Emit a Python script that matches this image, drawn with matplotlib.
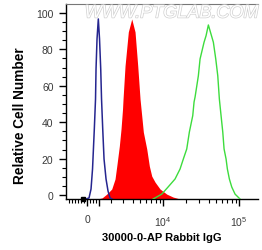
"""Flow cytometry overlay: isotype control vs 30000-0-AP Rabbit IgG."""

import matplotlib
matplotlib.use("Agg")
import matplotlib.pyplot as plt
import matplotlib.patheffects as pe
from matplotlib.ticker import FixedLocator, MultipleLocator

plt.rcParams["font.family"] = ["Liberation Sans", "DejaVu Sans"]
plt.rcParams["mathtext.fontset"] = "custom"
plt.rcParams["mathtext.rm"] = "Liberation Sans"
plt.rcParams["mathtext.it"] = "Liberation Sans:italic"

# blank / unstained control (navy outline)
blank_x = [-83, 166, 333, 458, 607, 707, 749, 832, 940, 1040, 1140, 1207,
           1306, 1415, 1581, 1747, 1914, 2080]
blank_y = [-2.2, -1.6, 3.3, 14.3, 36.3, 52.7, 69.2, 85.7, 96.7, 85.7, 69.2,
           52.7, 36.3, 19.8, 8.8, 2.2, -1.6, -2.2]

# isotype control (red, filled)
iso_x = [832, 1248, 1639, 2055, 2330, 2496, 2688, 2829, 2954, 2996, 3162,
         3494, 3874, 4281, 4646, 4983, 5246, 5505, 6103, 6603, 7101, 7849,
         9129, 11190, 13540, 16740]
iso_y = [-2.2, -1.6, 0.5, 3.3, 8.8, 17.0, 26.9, 36.3, 47.3, 52.7, 70.9,
         89.6, 96.7, 89.6, 70.9, 52.7, 43.4, 34.6, 25.3, 15.9, 10.4, 7.1,
         3.3, 0.5, -1.1, -2.2]

# antibody stained sample (green outline)
ab_x = [7386, 9612, 11640, 14380, 16740, 18490, 20500, 22190, 24590, 25580,
        26370, 29140, 30680, 34620, 36800, 39460, 45910, 49360, 52460, 55050,
        57960, 61030, 63490, 67450, 70170, 74560, 80130, 88600, 103100]
ab_y = [-2.2, 0.5, 4.4, 8.8, 14.3, 19.8, 25.3, 34.6, 43.6, 51.1, 53.8, 65.5,
        74.7, 83.9, 87.5, 93.4, 83.9, 74.7, 65.5, 52.7, 43.6, 34.6, 25.3,
        19.8, 14.3, 8.8, 4.4, 0.5, -2.2]

x_major = [0, 1000, 10000, 100000]
x_major_labels = ["0", "", "$10^4$", "$10^5$"]
x_minor = [-1750, -1500, -1250, -1000, -750, -500, -250, 250, 500, 750,
           2000, 3000, 4000, 5000, 6000, 7000, 8000, 9000,
           20000, 30000, 40000, 50000, 60000, 70000, 80000, 90000]

fig = plt.figure(figsize=(2.62, 2.51), dpi=100)
ax = fig.add_axes([0.252, 0.203, 0.733, 0.777])

ax.set_xscale("symlog", linthresh=3162, linscale=0.45)
ax.set_xlim(-1747, 177800)
ax.set_ylim(-2.2, 104.9)

ax.fill_between(iso_x, iso_y, -2.2, color="#ff0000", lw=0, zorder=2)
ax.plot(blank_x, blank_y, color="#25258f", lw=1.1, zorder=3)
ax.plot(ab_x, ab_y, color="#3ddc3d", lw=1.0, zorder=3)

# small black marker on the axis near zero
ax.plot([-333], [-2.2], marker="s", ms=3.5, color="black",
        clip_on=False, zorder=5)

ax.xaxis.set_major_locator(FixedLocator(x_major))
ax.set_xticklabels(x_major_labels)
ax.xaxis.set_minor_locator(FixedLocator(x_minor))
ax.yaxis.set_major_locator(FixedLocator([0, 20, 40, 60, 80, 100]))
ax.yaxis.set_minor_locator(MultipleLocator(5))

ax.tick_params(which="major", direction="out", length=5, width=1,
               labelsize=7.5, labelcolor="#3a3a3a", pad=4)
ax.tick_params(which="minor", direction="out", length=3, width=0.8)
ax.tick_params(axis="x", which="major", pad=6)

ax.spines["right"].set_visible(False)
ax.spines["top"].set_color("#777777")
ax.spines["left"].set_linewidth(1)
ax.spines["bottom"].set_linewidth(1)

ax.set_xlabel("30000-0-AP Rabbit IgG", fontsize=8, fontweight="bold",
              va="center")
ax.xaxis.set_label_coords(0.5, -0.195)
ax.set_ylabel("Relative Cell Number", fontsize=9.8, fontweight="bold",
              va="center")
ax.yaxis.set_label_coords(-0.24, 0.43)

fig.text(0.985, 0.944, "WWW.PTGLAB.COM", ha="right", va="center",
         fontsize=13, style="italic", color="white",
         path_effects=[pe.withStroke(linewidth=1.0, foreground="#d0d0d0")])

fig.savefig("out.png", dpi=100)
